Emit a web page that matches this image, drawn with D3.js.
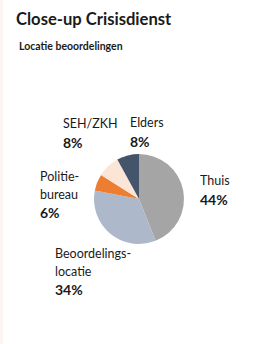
<!DOCTYPE html>
<html>
<head>
<meta charset="utf-8">
<script src="https://cdn.jsdelivr.net/npm/d3@7"></script>
<style>
  body { margin: 0; background: #fff; }
  svg { display: block; }
  text { font-family: Lato, "Open Sans", sans-serif; fill: #1a1a1a; }
</style>
</head>
<body>
<div id="chart"></div>
<script>
const categories = ["Thuis", "Beoordelingslocatie", "Politiebureau", "SEH/ZKH", "Elders"];
const values = [44, 34, 6, 8, 8];
const labelLines = [["Thuis"], ["Beoordelings-", "locatie"], ["Politie-", "bureau"], ["SEH/ZKH"], ["Elders"]];
const colors = ["#a5a5a5", "#adb9ca", "#ed7d31", "#fbe5d6", "#44546a"];

const width = 265, height = 344;
const cx = 139, cy = 199, radius = 45;

// label anchor points (top-left of the text block)
const labelPos = {
  "Thuis": [200, 185],
  "Beoordelingslocatie": [55, 258],
  "Politiebureau": [40, 181],
  "SEH/ZKH": [63, 128],
  "Elders": [130, 127]
};

const svg = d3.select("#chart").append("svg")
  .attr("width", width)
  .attr("height", height);

svg.append("rect").attr("x", 0).attr("y", 0).attr("width", 3).attr("height", height)
  .attr("fill", "#fbf6f3");

svg.append("text").attr("x", 16).attr("y", 25)
  .style("font-size", "16.6px").style("font-weight", "bold")
  .text("Close-up Crisisdienst");

svg.append("text").attr("x", 19).attr("y", 50)
  .style("font-size", "10.5px").style("font-weight", "bold")
  .text("Locatie beoordelingen");

const data = categories.map((c, i) => ({ name: c, value: values[i], lines: labelLines[i], color: colors[i] }));

const pie = d3.pie().value(d => d.value).sort(null);
const arc = d3.arc().innerRadius(0).outerRadius(radius);

const g = svg.append("g").attr("transform", `translate(${cx},${cy})`);
g.selectAll("path")
  .data(pie(data))
  .enter()
  .append("path")
  .attr("d", arc)
  .attr("fill", d => d.data.color);

const labels = svg.selectAll("g.label")
  .data(data)
  .enter()
  .append("g")
  .attr("class", "label")
  .attr("transform", d => `translate(${labelPos[d.name][0]},${labelPos[d.name][1]})`);

labels.each(function (d) {
  const el = d3.select(this);
  d.lines.forEach((line, i) => {
    el.append("text").attr("x", 0).attr("y", i * 17.5)
      .style("font-size", "12.5px")
      .text(line);
  });
  el.append("text").attr("x", 0).attr("y", d.lines.length * 17.5 + 2)
    .style("font-size", "14px").style("font-weight", "bold")
    .text(d.value + "%");
});
</script>
</body>
</html>
